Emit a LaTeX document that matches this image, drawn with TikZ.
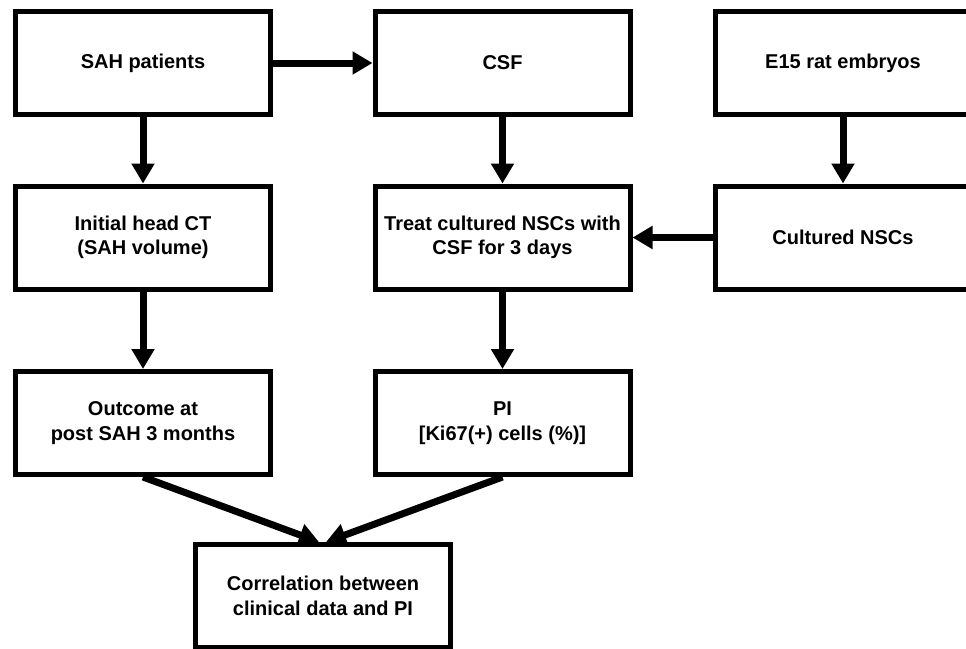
\documentclass[tikz,border=0pt]{standalone}
\usepackage{fontspec}
\setmainfont{Liberation Sans}
\usetikzlibrary{arrows.meta}
\begin{document}
\begin{tikzpicture}[x=1pt,y=-1pt,
  box/.style={draw=black, line width=5pt, fill=white, minimum width=255pt, minimum height=103pt,
    align=center, inner sep=0pt, font=\bfseries\fontsize{20pt}{24.5pt}\selectfont},
  arr/.style={line width=7pt, -{Triangle[length=20pt,width=22pt]}}]
\useasboundingbox (0,0) rectangle (966,648);
\fill[white] (0,0) rectangle (966,648);
\node[box] (sah) at (143,63) {SAH patients};
\node[box] (csf) at (502.5,63) {CSF};
\node[box] (e15) at (843,63) {E15 rat embryos};
\node[box] (ct) at (143,237.5) {Initial head CT\\(SAH volume)};
\node[box] (treat) at (502.5,237.5) {Treat cultured NSCs with\\CSF for 3 days};
\node[box] (nsc) at (843,237.5) {Cultured NSCs};
\node[box] (out) at (143,423) {Outcome at\\post SAH 3 months};
\node[box] (pi) at (502.5,423) {PI\\{[Ki67(+) cells (\%)]}};
\node[box] (corr) at (323,596) {Correlation between\\clinical data and PI};
\draw[arr] (sah) -- (csf);
\draw[arr] (sah) -- (ct);
\draw[arr] (csf) -- (treat);
\draw[arr] (e15) -- (nsc);
\draw[arr] (nsc) -- (treat);
\draw[arr] (ct) -- (out);
\draw[arr] (treat) -- (pi);
\draw[arr] (out.south) -- ([xshift=-4pt]corr.north);
\draw[arr] (pi.south) -- ([xshift=3pt]corr.north);
\end{tikzpicture}
\end{document}
